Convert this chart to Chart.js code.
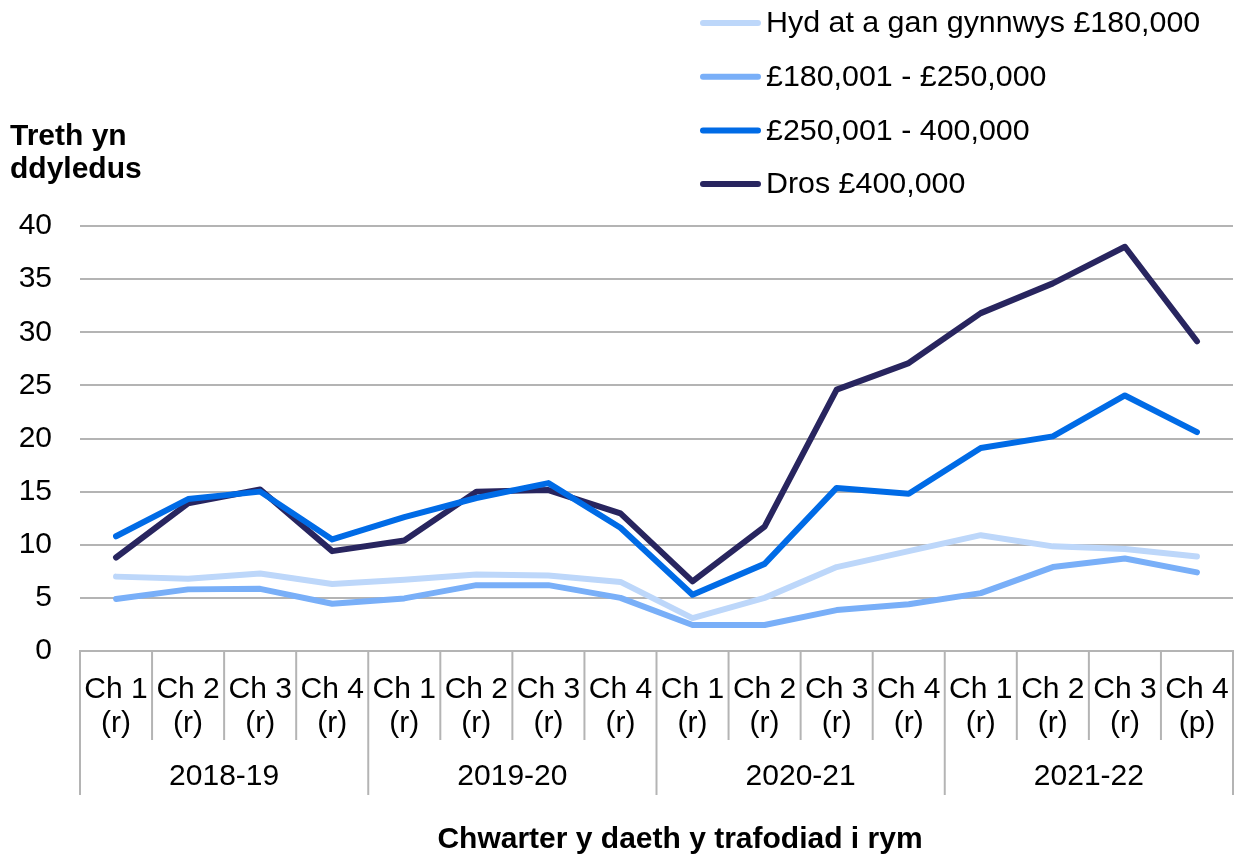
<!DOCTYPE html>
<html>
<head>
<meta charset="utf-8">
<script src="https://cdn.jsdelivr.net/npm/chart.js@4.4.0/dist/chart.umd.min.js"></script>
<style>
  html, body { margin: 0; padding: 0; background: #fff; }
  #wrap { width: 1235px; height: 855px; position: relative; }
</style>
</head>
<body>
<div id="wrap"><canvas id="chart"></canvas></div>
<script>
// ===== DATA =====
const quarterLabels = [
  ['Ch 1', '(r)'], ['Ch 2', '(r)'], ['Ch 3', '(r)'], ['Ch 4', '(r)'],
  ['Ch 1', '(r)'], ['Ch 2', '(r)'], ['Ch 3', '(r)'], ['Ch 4', '(r)'],
  ['Ch 1', '(r)'], ['Ch 2', '(r)'], ['Ch 3', '(r)'], ['Ch 4', '(r)'],
  ['Ch 1', '(r)'], ['Ch 2', '(r)'], ['Ch 3', '(r)'], ['Ch 4', '(p)']
];
const yearLabels = ['2018-19', '2019-20', '2020-21', '2021-22'];
const seriesNames = ['Hyd at a gan gynnwys £180,000', '£180,001 - £250,000', '£250,001 - 400,000', 'Dros £400,000'];

const upTo180k = [7.0, 6.8, 7.3, 6.3, 6.7, 7.2, 7.1, 6.5, 3.1, 5.0, 7.9, 9.4, 10.9, 9.85, 9.6, 8.9];
const band180to250k = [4.9, 5.8, 5.85, 4.45, 4.95, 6.2, 6.2, 5.0, 2.45, 2.45, 3.85, 4.4, 5.45, 7.9, 8.7, 7.4];
const band250to400k = [10.8, 14.3, 15.0, 10.5, 12.6, 14.4, 15.8, 11.6, 5.3, 8.2, 15.35, 14.8, 19.1, 20.2, 24.05, 20.6];
const over400k = [8.8, 13.9, 15.2, 9.4, 10.4, 15.0, 15.15, 12.95, 6.55, 11.7, 24.6, 27.1, 31.8, 34.6, 38.05, 29.15];

const yTicks = [0, 5, 10, 15, 20, 25, 30, 35, 40];

const colors = ['#bdd7fa', '#79aff8', '#006be6', '#28255f'];
const gridColor = '#b4b4b4';
const FONT = '"Liberation Sans", Arial, sans-serif';

// ===== EXTRA DRAWING: group axis, titles, legend =====
const extras = {
  id: 'extras',
  afterDraw(chart) {
    const ctx = chart.ctx;
    const xs = chart.scales.x;
    const area = chart.chartArea;
    const n = quarterLabels.length;
    const half = (xs.getPixelForValue(1) - xs.getPixelForValue(0)) / 2;

    ctx.save();
    // category separators
    ctx.strokeStyle = gridColor;
    ctx.lineWidth = 2;
    for (let i = 0; i <= n; i++) {
      const px = i < n ? xs.getPixelForValue(i) - half : xs.getPixelForValue(n - 1) + half;
      const len = i % 4 === 0 ? 144 : 89;
      ctx.beginPath();
      ctx.moveTo(px, area.bottom);
      ctx.lineTo(px, area.bottom + len);
      ctx.stroke();
    }

    // year labels
    ctx.fillStyle = '#000';
    ctx.font = '30px ' + FONT;
    ctx.textAlign = 'center';
    ctx.textBaseline = 'middle';
    yearLabels.forEach((y, k) => {
      const cx = (xs.getPixelForValue(k * 4) + xs.getPixelForValue(k * 4 + 3)) / 2;
      ctx.fillText(y, cx, area.bottom + 126);
    });

    // axis titles
    ctx.font = 'bold 30px ' + FONT;
    ctx.fillText('Chwarter y daeth y trafodiad i rym', 680, 840);
    ctx.textAlign = 'left';
    ctx.fillText('Treth yn', 10, 137);
    ctx.fillText('ddyledus', 10, 170);

    // legend
    ctx.font = '30.4px ' + FONT;
    ctx.lineCap = 'round';
    ctx.lineWidth = 6;
    chart.data.datasets.forEach((ds, i) => {
      const y = 23 + i * 53.7;
      ctx.strokeStyle = ds.borderColor;
      ctx.beginPath();
      ctx.moveTo(703, y);
      ctx.lineTo(758, y);
      ctx.stroke();
      ctx.fillText(ds.label, 766, y + 1);
    });
    ctx.restore();
  }
};

// ===== CHART =====
const seriesData = [upTo180k, band180to250k, band250to400k, over400k];

new Chart(document.getElementById('chart').getContext('2d'), {
  type: 'line',
  data: {
    labels: quarterLabels,
    datasets: seriesData.map((d, i) => ({
      label: seriesNames[i],
      data: d,
      borderColor: colors[i],
      backgroundColor: colors[i],
      borderWidth: 6,
      pointRadius: 0,
      tension: 0,
      borderCapStyle: 'round',
      borderJoinStyle: 'round',
      fill: false
    }))
  },
  options: {
    responsive: true,
    maintainAspectRatio: false,
    animation: false,
    layout: { padding: { top: 226, right: 2, left: 0, bottom: 0 } },
    plugins: {
      legend: { display: false },
      tooltip: { enabled: false }
    },
    scales: {
      x: {
        offset: true,
        grid: { display: false, drawTicks: false },
        border: { display: true, color: gridColor, width: 2 },
        ticks: {
          color: '#000',
          font: { family: FONT, size: 30, lineHeight: 1.13 },
          maxRotation: 0,
          autoSkip: false,
          padding: 22
        },
        afterFit(scale) {
          scale.height = 204;
          scale.paddingLeft = 0;
          scale.paddingRight = 0;
        }
      },
      y: {
        min: 0,
        max: 40,
        afterBuildTicks(scale) { scale.ticks = yTicks.map(v => ({ value: v })); },
        grid: { color: gridColor, lineWidth: 2, drawTicks: false },
        border: { display: false },
        ticks: {
          color: '#000',
          font: { family: FONT, size: 30 },
          padding: 28
        },
        afterFit(scale) { scale.width = 80; }
      }
    }
  },
  plugins: [extras]
});
</script>
</body>
</html>
